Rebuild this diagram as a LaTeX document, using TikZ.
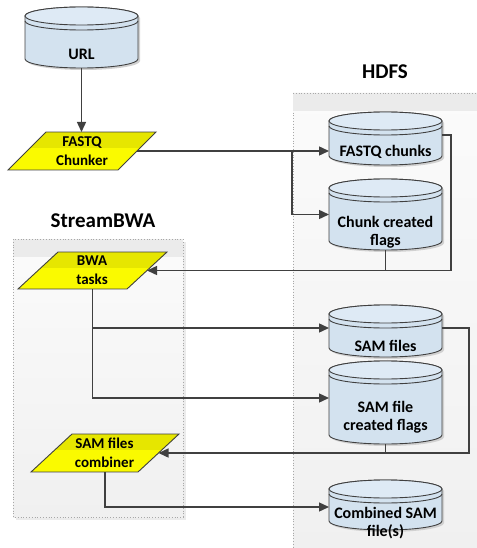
\documentclass[tikz,border=0pt]{standalone}
\usepackage{fontspec}
\setmainfont{Carlito}
\usetikzlibrary{arrows.meta,calc}
\definecolor{edge}{HTML}{404040}
\definecolor{cylbody}{HTML}{D3E2EF}
\definecolor{cyltop}{HTML}{DEEAF5}
\definecolor{ylwtop}{HTML}{E6E600}
\definecolor{ylwbot}{HTML}{FAFA00}
\definecolor{boxhead}{HTML}{EBEBEB}
\definecolor{boxbot}{HTML}{F0F0F0}
\definecolor{boxtop}{HTML}{FBFBFB}
\definecolor{boxline}{HTML}{A8A8A8}
\newcommand{\cylpath}[3]{({#1-56.5},{#2+9}) -- ({#1-56.5},{#3-9}) arc[start angle=180,end angle=0,x radius=56.5,y radius=9] -- ({#1+56.5},{#2+9}) arc[start angle=0,end angle=-180,x radius=56.5,y radius=9] -- cycle}
% name, cx, top, bottom
\newcommand{\dbcyl}[4]{%
  \fill[black!18] [shift={(2,2)}] \cylpath{#2}{#3}{#4};
  \draw[edge,line width=0.9pt,fill=cylbody] \cylpath{#2}{#3}{#4};
  \draw[edge,line width=0.9pt,fill=cyltop] ({#2},{#3+9}) ellipse[x radius=56.5,y radius=9];
  \draw[edge,line width=0.9pt] ({#2-56.5},{#3+14}) arc[start angle=180,end angle=0,x radius=56.5,y radius=9];
  \node[boxnode,minimum width=113pt,minimum height={#4-#3}] (#1) at ({#2},{(#3+#4)/2}) {};
}
% name, cx, cy, width, height, slant
\newcommand{\paral}[6]{%
  \begin{scope}
    \clip ({#2-#4/2+#6},{#3-#5/2}) -- ({#2+#4/2},{#3-#5/2}) -- ({#2+#4/2-#6},{#3+#5/2}) -- ({#2-#4/2},{#3+#5/2}) -- cycle;
    \fill[ylwbot] ({#2-#4/2},{#3-#5/2}) rectangle ({#2+#4/2},{#3+#5/2});
    \fill[ylwtop] ({#2-#4/2},{#3-#5/2}) rectangle ({#2+#4/2},{#3-#5/2+16});
  \end{scope}
  \draw[edge,line width=0.9pt] ({#2-#4/2+#6},{#3-#5/2}) -- ({#2+#4/2},{#3-#5/2}) -- ({#2+#4/2-#6},{#3+#5/2}) -- ({#2-#4/2},{#3+#5/2}) -- cycle;
  \node[boxnode,minimum width={#4},minimum height={#5}] (#1) at ({#2},{#3}) {};
  \coordinate (#1-e) at ({#2+#4/2-#6/2},{#3});
}
\tikzset{
  boxnode/.style={draw=none,inner sep=0pt,outer sep=0pt,rectangle},
  lbl/.style={font=\bfseries\fontsize{16}{18}\selectfont,align=center,text=black,inner sep=0pt},
  plbl/.style={lbl,font=\bfseries\fontsize{15}{19}\selectfont},
  title/.style={font=\bfseries\fontsize{21}{24}\selectfont,text=black,inner sep=0pt},
  conn/.style={draw=edge,line width=1.4pt},
  arr/.style={conn,-{Triangle[length=10pt,width=9pt]}},
  area/.style={draw=boxline,line width=0.8pt,dotted,top color=boxtop,bottom color=boxbot}
}
\begin{document}
\begin{tikzpicture}[x=1pt,y=-1pt]
\useasboundingbox (0,0) rectangle (476,548);
% background areas
\fill[black!8] (296,96) rectangle (480,552);
\path[area] (293,93) rectangle (480,552);
\fill[boxhead] (293.4,93.4) rectangle (480,111);
\draw[boxline,line width=0.8pt,dotted] (293,93) -- (480,93);
\fill[black!8] (16,242) rectangle (186,520);
\path[area] (13,239) rectangle (183,517);
\fill[boxhead] (13.4,239.4) rectangle (182.6,257);
\draw[boxline,line width=0.8pt,dotted] (13,239) rectangle (183,517);
\node[title] (hdfs) at (385,72) {HDFS};
\node[title] (sbwa) at (103,221) {StreamBWA};
% shapes
\dbcyl{url}{81.5}{7}{68}
\dbcyl{fq}{385.5}{112}{165}
\dbcyl{ccf}{385.5}{179}{250}
\dbcyl{sam}{385.5}{305}{357}
\dbcyl{sfc}{385.5}{361}{444}
\dbcyl{comb}{385.5}{480}{530}
\paral{chk}{82}{151}{148}{38}{38}
\paral{bwa}{92.5}{270.5}{149}{37}{40}
\paral{cmb}{105}{453}{148}{38}{41}
% texts
\node[lbl] (url-t) at (81.5,54) {URL};
\node[lbl] (fq-t) at (385.5,152) {FASTQ chunks};
\node[lbl] (ccf-t) at (385.5,232) {Chunk created\\flags};
\node[lbl] (sam-t) at (385.5,346) {SAM files};
\node[lbl] (sfc-t) at (385.5,417) {SAM file\\created flags};
\node[lbl] (comb-t) at (385.5,523) {Combined SAM\\file(s)};
\node[plbl] (chk-t) at (82,151.5) {FASTQ\\Chunker};
\node[plbl] (bwa-t) at (92,270.5) {BWA\\tasks};
\node[plbl] (cmb-t) at (104.5,453) {SAM files\\combiner};
% connectors
\draw[arr] (url.south) -- (url.south |- chk.north);
\draw[arr] (chk-e) -- (chk-e -| fq.west);
\coordinate (br1) at (292,151);
\draw[arr] (br1) |- (ccf.west);
\draw[arr] ([yshift=3.5pt]fq.east) -- ++(9,0) |- (bwa-e);
\draw[conn] (ccf.south) -- (ccf.south |- bwa-e);
\draw[arr] (bwa.south) |- ([yshift=3pt]sam.west);
\draw[arr] (bwa.south) |- ([yshift=4.5pt]sfc.west);
\draw[arr] ([yshift=3pt]sam.east) -- ++(27,0) |- (cmb-e);
\draw[conn] (sfc.south) -- (sfc.south |- cmb-e);
\draw[arr] (cmb.south) |- ([yshift=-2pt]comb.west);
\end{tikzpicture}
\end{document}
